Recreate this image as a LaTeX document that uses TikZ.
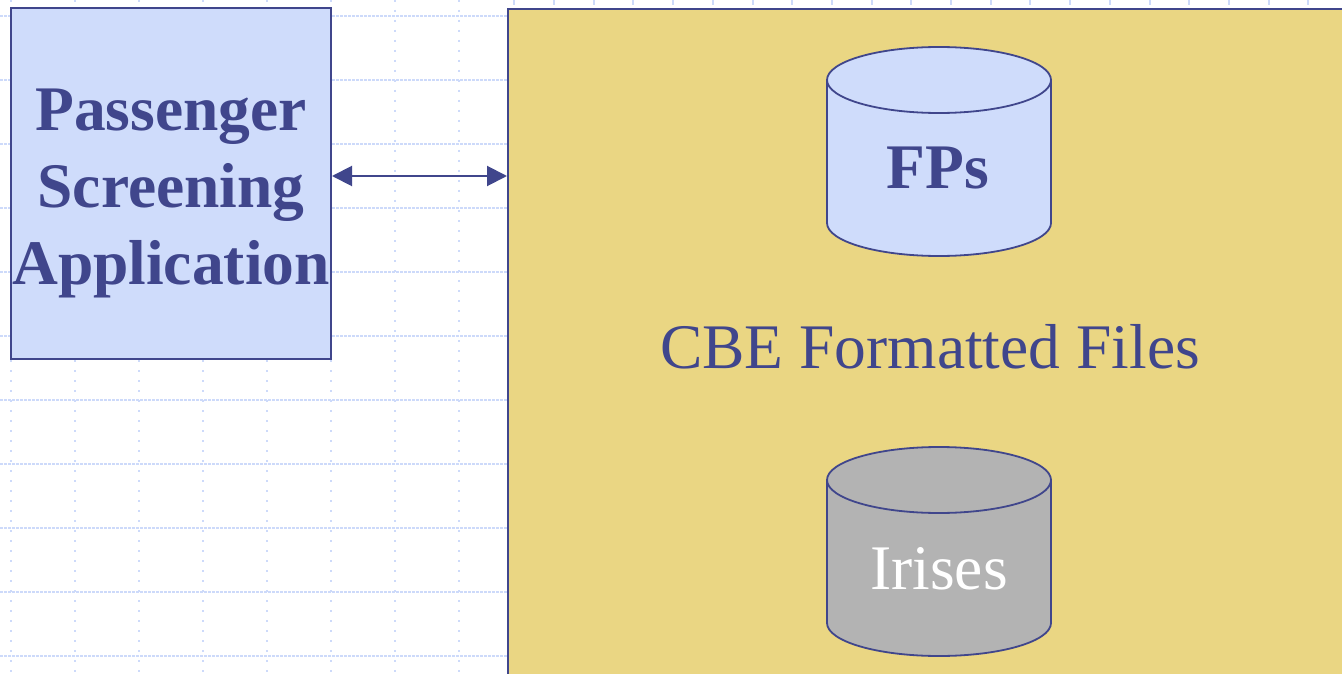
\documentclass[tikz,border=0pt]{standalone}
\usepackage{fontspec}
\setmainfont{Liberation Serif}
\usetikzlibrary{arrows.meta}
\definecolor{ink}{RGB}{64,70,140}
\definecolor{paleblue}{RGB}{207,220,251}
\definecolor{sand}{RGB}{234,214,131}
\definecolor{stone}{RGB}{179,179,179}
\definecolor{gridblue}{RGB}{205,218,250}
\tikzset{
  box/.style={draw=ink, line width=2pt, inner sep=0pt},
  gridh/.style={draw=gridblue, line width=2pt, dash pattern=on 2.5pt off 1.5pt},
  gridv/.style={draw=gridblue, line width=2pt, dash pattern=on 2pt off 8pt},
  drum/.style={draw=ink, line width=1.8pt},
  bigtext/.style={font=\fontsize{63.5}{77}\selectfont, text=ink},
  link/.style={draw=ink, line width=2pt, {Triangle[length=20pt,width=20pt]}-{Triangle[length=20pt,width=20pt]}}
}
\begin{document}
\begin{tikzpicture}[x=1pt, y=-1pt]
\useasboundingbox (0,0) rectangle (1342,674);
\clip (0,0) rectangle (1342,674);
\fill[white] (0,0) rectangle (1342,674);

% background grid
\foreach \gy in {16,80,...,656}
  \draw[gridh] (0,\gy) -- (507,\gy);
\foreach \gx in {11,75,...,459}
  \draw[gridv] (\gx,0) -- (\gx,674);
\foreach \k in {0,...,21}
  \draw[draw=gridblue, line width=2pt] ({514.3+39.7*\k},0) -- ({514.3+39.7*\k},5);

% application box
\node[box, fill=paleblue, minimum width=320pt, minimum height=351pt] (psa) at (171,183.5) {};
\node[bigtext, font=\fontsize{63.5}{77}\selectfont\bfseries, align=center] (psalabel) at (171,193)
  {Passenger\\Screening\\Application};

% storage area
\node[box, fill=sand, anchor=north west, minimum width=900pt, minimum height=700pt] (cbe) at (507,8) {};
\node[bigtext, anchor=base] (cbelabel) at (930,368) {CBE Formatted Files};

% fingerprint store
\filldraw[drum, fill=paleblue] (939,223) ellipse[x radius=112, y radius=33];
\fill[paleblue] (827,80) rectangle (1051,223);
\draw[drum] (827,80) -- (827,223) (1051,80) -- (1051,223);
\filldraw[drum, fill=paleblue] (939,80) ellipse[x radius=112, y radius=33];
\node[bigtext, font=\fontsize{63.5}{77}\selectfont\bfseries, anchor=base] (fps) at (938,189) {FPs};

% iris store
\filldraw[drum, fill=stone] (939,623) ellipse[x radius=112, y radius=33];
\fill[stone] (827,480) rectangle (1051,623);
\draw[drum] (827,480) -- (827,623) (1051,480) -- (1051,623);
\filldraw[drum, fill=stone] (939,480) ellipse[x radius=112, y radius=33];
\node[bigtext, text=white, anchor=base] (irises) at (939,589) {Irises};

% exchange between application and storage
\draw[link] (psa.east |- 0,176) -- (cbe.west |- 0,176);
\end{tikzpicture}
\end{document}
